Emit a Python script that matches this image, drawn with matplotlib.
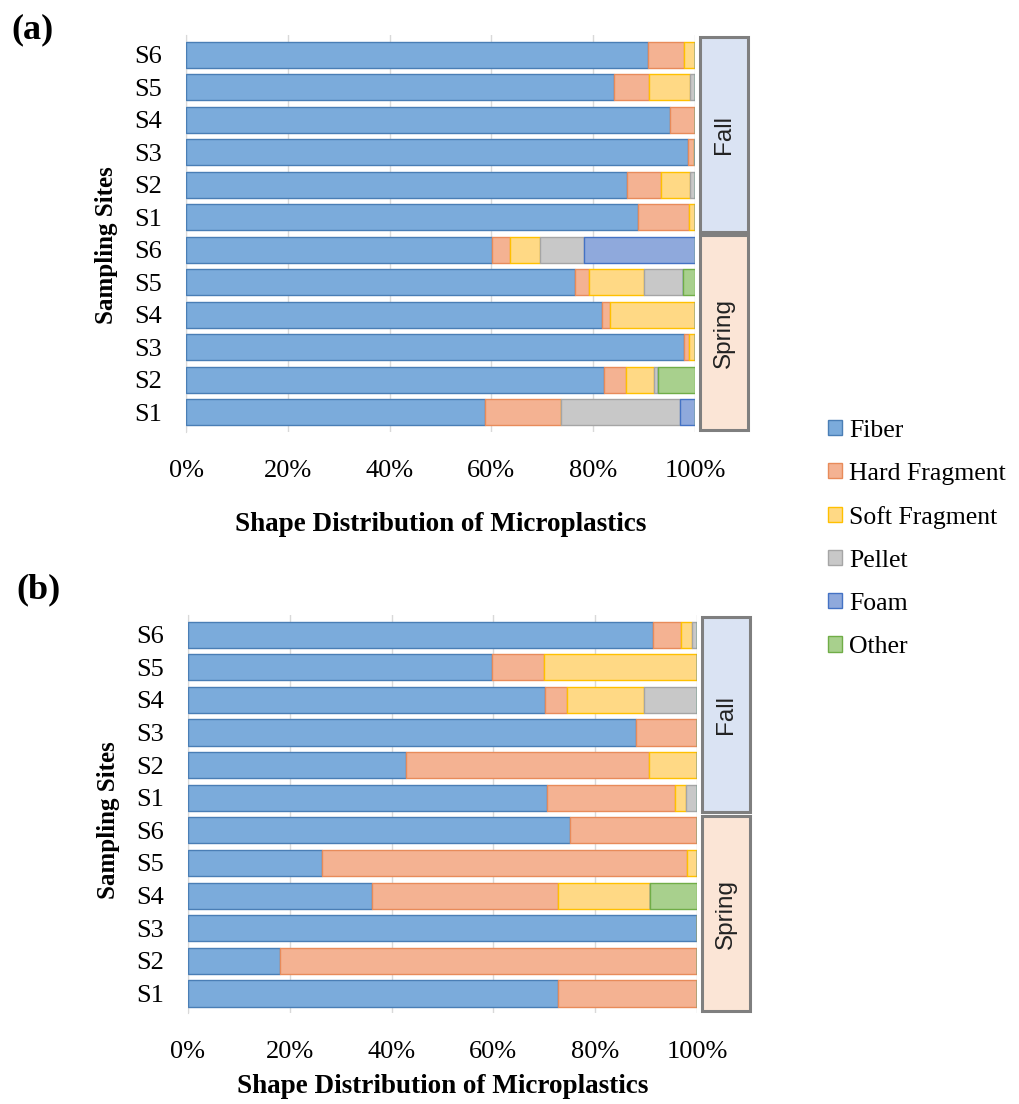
import numpy as np
import matplotlib
matplotlib.use("Agg")
import matplotlib.pyplot as plt
from matplotlib.patches import Rectangle
from matplotlib.ticker import FuncFormatter
import matplotlib.transforms as mtransforms

# rows top to bottom: Fall S6..S1, then Spring S6..S1
sites = ["S6", "S5", "S4", "S3", "S2", "S1", "S6", "S5", "S4", "S3", "S2", "S1"]
shapes = ["Fiber", "Hard Fragment", "Soft Fragment", "Pellet", "Foam", "Other"]
seasons = ["Fall", "Spring"]

# panel (a) percentages
a_fiber = [90.8, 84.1, 95.1, 98.7, 86.6, 88.7, 60.2, 76.4, 81.8, 97.8, 82.1, 58.7]
a_hard = [7.0, 6.9, 4.9, 1.0, 6.7, 10.2, 3.5, 2.8, 1.4, 1.1, 4.3, 14.9]
a_soft = [2.2, 8.1, 0, 0, 5.8, 1.1, 5.8, 10.8, 16.8, 1.1, 5.6, 0]
a_pellet = [0, 0.9, 0, 0.3, 0.9, 0, 8.6, 7.6, 0, 0, 0.8, 23.4]
a_foam = [0, 0, 0, 0, 0, 0, 21.9, 0, 0, 0, 0, 3.0]
a_other = [0, 0, 0, 0, 0, 0, 0, 2.4, 0, 0, 7.2, 0]

# panel (b) percentages
b_fiber = [91.3, 59.8, 70.1, 88.1, 42.8, 70.5, 75.0, 26.3, 36.2, 100, 18.1, 72.7]
b_hard = [5.5, 10.1, 4.4, 11.9, 47.8, 25.2, 25.0, 71.8, 36.5, 0, 81.9, 27.3]
b_soft = [2.3, 30.1, 15.0, 0, 9.4, 2.1, 0, 1.9, 18.1, 0, 0, 0]
b_pellet = [0.9, 0, 10.5, 0, 0, 2.2, 0, 0, 0, 0, 0, 0]
b_foam = [0, 0, 0, 0, 0, 0, 0, 0, 0, 0, 0, 0]
b_other = [0, 0, 0, 0, 0, 0, 0, 0, 9.2, 0, 0, 0]

fills = ["#7BABDB", "#F4B292", "#FFD985", "#C8C8C8", "#8FA9DC", "#A8D08D"]
edges = ["#4A7EB5", "#E88B5A", "#FFC000", "#A5A5A5", "#4472C4", "#70AD47"]
season_fill = ["#DAE3F3", "#FBE5D6"]

serif = "Liberation Serif"

fig = plt.figure(figsize=(10.2, 11.04), dpi=100)


def draw_panel(ax, series, tag, xlabelpad, ylabel_y):
    n = len(sites)
    y = np.arange(n)[::-1]
    left = np.zeros(n)
    for vals, name, fc, ec in zip(series, shapes, fills, edges):
        vals = np.array(vals, dtype=float)
        ax.barh(y, vals, left=left, height=0.8, color=fc, edgecolor=ec,
                linewidth=1.0, label=name, zorder=3)
        left += vals
    ax.set_xlim(0, 100)
    ax.set_ylim(-0.6, n - 0.4)
    ax.set_yticks(y)
    ax.set_yticklabels(sites, fontfamily=serif, fontsize=19)
    ax.set_xticks([0, 20, 40, 60, 80, 100])
    ax.xaxis.set_major_formatter(FuncFormatter(lambda v, p: f"{int(v)}%"))
    for lab in ax.get_xticklabels():
        lab.set_fontfamily(serif)
        lab.set_fontsize(19)
    ax.tick_params(axis="both", length=0)
    ax.tick_params(axis="x", pad=20)
    ax.tick_params(axis="y", pad=17)
    ax.grid(axis="x", color="#D9D9D9", linewidth=1, zorder=0)
    for s in ["top", "right", "bottom"]:
        ax.spines[s].set_visible(False)
    ax.spines["left"].set_color("#D9D9D9")
    ax.set_xlabel("Shape Distribution of Microplastics", fontfamily=serif,
                  fontsize=19.5, fontweight="bold", labelpad=xlabelpad)
    ax.set_ylabel("Sampling Sites", fontfamily=serif, fontsize=18,
                  fontweight="bold", labelpad=12)
    ax.yaxis.label.set_y(ylabel_y)

    # season boxes on the right
    trans = mtransforms.blended_transform_factory(ax.transAxes, ax.transData)
    spans = [(5.55, 11.55), (-0.55, 5.45)]
    for (y0, y1), name, fc in zip(spans, seasons, season_fill):
        r = Rectangle((1.01, y0), 0.094, y1 - y0, transform=trans,
                      facecolor=fc, edgecolor="#7F7F7F", linewidth=2.2,
                      clip_on=False)
        ax.add_patch(r)
        ax.text(1.057, (y0 + y1) / 2, name, transform=trans, rotation=90,
                ha="center", va="center", fontsize=17.5,
                fontfamily="Liberation Sans", color="#222222")

    fig.text(tag[1], tag[2], tag[0], fontfamily=serif, fontsize=26,
             fontweight="bold", ha="left", va="center")


ax_a = fig.add_axes([0.1824, 0.6087, 0.499, 0.3596])
draw_panel(ax_a, [a_fiber, a_hard, a_soft, a_pellet, a_foam, a_other],
           ("(a)", 0.011, 0.973), 22, 0.47)

ax_b = fig.add_axes([0.1843, 0.0824, 0.499, 0.3605])
draw_panel(ax_b, [b_fiber, b_hard, b_soft, b_pellet, b_foam, b_other],
           ("(b)", 0.016, 0.466), 8, 0.485)

handles, labels = ax_a.get_legend_handles_labels()
fig.legend(handles, labels, loc="upper left", bbox_to_anchor=(0.812, 0.620),
           frameon=False, prop={"family": serif, "size": 18.5},
           handlelength=0.55, handleheight=0.55, handletextpad=0.25,
           labelspacing=0.82, borderpad=0, borderaxespad=0)

fig.savefig("out.png", dpi=100, facecolor="white")
